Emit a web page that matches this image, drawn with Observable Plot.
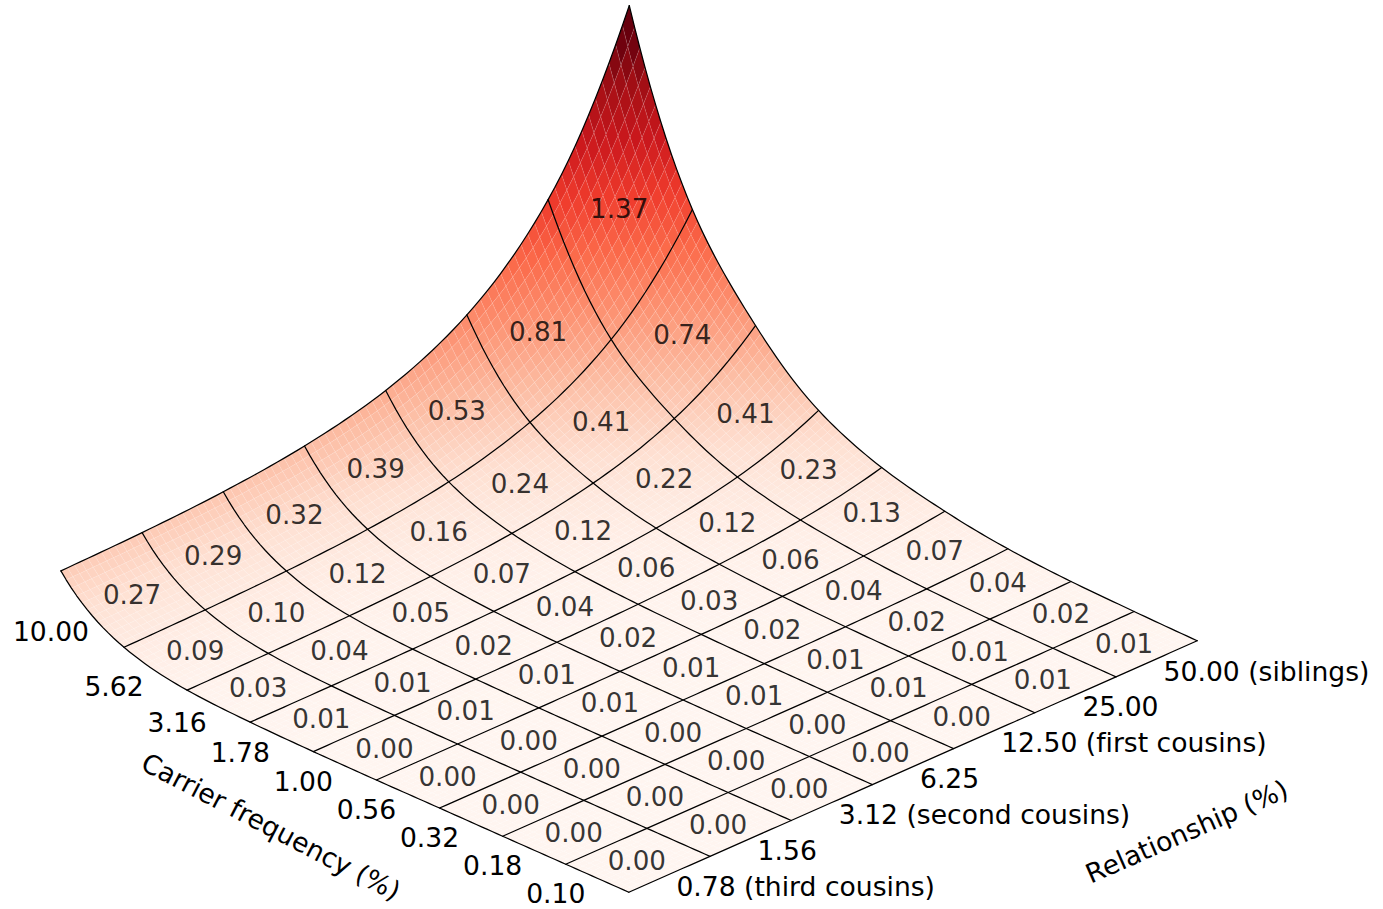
<!DOCTYPE html>
<html>
<head>
<meta charset="utf-8">
<style>
html,body{margin:0;padding:0;background:#fff;overflow:hidden}
svg{display:block}
text{font-variant-ligatures:none}
</style>
<script src="https://cdn.jsdelivr.net/npm/d3@7"></script>
<script src="https://cdn.jsdelivr.net/npm/@observablehq/plot@0.6"></script>
</head>
<body>
<script>
const carrierLabels = ["0.10","0.18","0.32","0.56","1.00","1.78","3.16","5.62","10.00"];
const relationshipLabels = ["0.78 (third cousins)","1.56","3.12 (second cousins)","6.25","12.50 (first cousins)","25.00","50.00 (siblings)"];
const heightLine0 = [0,0,0,0,.001,.001,.001,.003];
const heightLine1 = [0,0,0,.001,.001,.003,.005,.011];
const heightLine2 = [0,0,.001,.001,.003,.006,.012,.024];
const heightLine3 = [.001,.001,.002,.004,.007,.014,.027,.054];
const heightLine4 = [.001,.002,.004,.008,.015,.029,.058,.116];
const heightLine5 = [.004,.006,.009,.015,.029,.056,.110,.217];
const heightLine6 = [.013,.016,.022,.034,.059,.108,.207,.405];
const heightLine7 = [.039,.045,.056,.079,.125,.218,.403,.772];
const heightLine8 = [.135,.145,.164,.202,.277,.430,.733,1.340];
const heightLine9 = [.447,.463,.495,.559,.686,.942,1.454,2.475];
const heights = [heightLine0,heightLine1,heightLine2,heightLine3,heightLine4,heightLine5,heightLine6,heightLine7,heightLine8,heightLine9];
const cells010 = [0.00,0.00,0.00,0.00,0.00,0.01,0.01];
const cells018 = [0.00,0.00,0.00,0.00,0.01,0.01,0.02];
const cells032 = [0.00,0.00,0.00,0.01,0.01,0.02,0.04];
const cells056 = [0.00,0.00,0.01,0.01,0.02,0.04,0.07];
const cells100 = [0.00,0.01,0.01,0.02,0.03,0.06,0.13];
const cells178 = [0.01,0.01,0.02,0.04,0.06,0.12,0.23];
const cells316 = [0.03,0.04,0.05,0.07,0.12,0.22,0.41];
const cells562 = [0.09,0.10,0.12,0.16,0.24,0.41,0.74];
const cells1000 = [0.27,0.29,0.32,0.39,0.53,0.81,1.37];
const cellValues = [cells010,cells018,cells032,cells056,cells100,cells178,cells316,cells562,cells1000];
const redStops = ["#fff5f0","#fee0d2","#fcbba1","#fc9272","#fb6a4a","#ef3b2c","#cb181d","#a50f15","#67000d"];
const view = {x0:628.3, y0:891.7, xR:81.2, yR:-35.86, xC:-63.1, yC:-28, yZ:-155};
const px = (r,c) => view.x0 + view.xR*r + view.xC*c;
const py = (r,c,z) => view.y0 + view.yR*r + view.yC*c + view.yZ*z;
const eps = .002;
const logH = heights.map(row => row.map(v => Math.log(v+eps)));
const nC = logH.length, nR = logH[0].length;
function cr(p0,p1,p2,p3,t){
  return p1 + .5*t*(p2-p0 + t*(2*p0-5*p1+4*p2-p3 + t*(3*(p1-p2)+p3-p0)));
}
function sample(arr,u){
  const n = arr.length, i = Math.min(Math.floor(u),n-2), t = u-i;
  const a = i>0 ? arr[i-1] : 2*arr[0]-arr[1];
  const d = i<n-2 ? arr[i+2] : 2*arr[n-1]-arr[n-2];
  return cr(a,arr[i],arr[i+1],d,t);
}
function surf(r,c){
  const col = logH.map(row => sample(row,r));
  return Math.max(0, Math.exp(sample(col,c))-eps);
}
const sub = 12;
const grid = [];
for(let j=0;j<=(nC-1)*sub;j++){
  const row=[];
  for(let i=0;i<=(nR-1)*sub;i++) row.push(surf(i/sub,j/sub));
  grid.push(row);
}
const facets = [];
for(let j=0;j<(nC-1)*sub;j++){
  for(let i=0;i<(nR-1)*sub;i++){
    const id = j*10000+i;
    const corners = [[i,j],[i+1,j],[i+1,j+1],[i,j+1]];
    const zm = d3.mean(corners,([a,b])=>grid[b][a]);
    for(const [a,b] of corners){
      facets.push({id, z:zm, x:px(a/sub,b/sub), y:py(a/sub,b/sub,grid[b][a])});
    }
  }
}
const wires = [];
for(let i=0;i<nR;i++) for(let j=0;j<=(nC-1)*sub;j++)
  wires.push({id:"r"+i, x:px(i,j/sub), y:py(i,j/sub,grid[j][i*sub])});
for(let j=0;j<nC;j++) for(let i=0;i<=(nR-1)*sub;i++)
  wires.push({id:"c"+j, x:px(i/sub,j), y:py(i/sub,j,grid[j*sub][i])});
const cellRows = [];
cellValues.forEach((row,c)=>row.forEach((v,r)=>{
  cellRows.push({label:v.toFixed(2), x:px(r+.5,c+.5), y:py(r+.5,c+.5,v)});
}));
const carrierTicks = carrierLabels.map((label,c)=>({label, x:px(0,c+.5), y:py(0,c+.5,surf(0,c+.5))}));
const relationshipTicks = relationshipLabels.map((label,r)=>({label, x:px(r+.5,0), y:py(r+.5,0,0)}));
const axisTitles = [
  {label:"Carrier frequency (%)", x:px(-1.31,3.99), y:py(-1.31,3.99,0), rotate:27.5},
  {label:"Relationship (%)", x:px(4.28,-3.34), y:py(4.28,-3.34,0), rotate:-23.7}
];
const colorMax = 2.3;
const fontSize = 26.6;
const chart = Plot.plot({
  width:1383, height:909,
  marginTop:0, marginRight:0, marginBottom:0, marginLeft:0,
  style:{fontFamily:"DejaVu Sans", background:"#fff", color:"#000"},
  x:{domain:[0,1383], range:[0,1383], axis:null},
  y:{domain:[0,909], range:[0,909], axis:null},
  color:{type:"linear", domain:redStops.map((_,i)=>colorMax*i/(redStops.length-1)), range:redStops, interpolate:"rgb", clamp:true},
  marks:[
    Plot.line(facets,{x:"x",y:"y",z:"id",fill:"z",stroke:"#fff",strokeOpacity:.13,strokeWidth:.6,curve:"linear-closed"}),
    Plot.line(wires,{x:"x",y:"y",z:"id",stroke:"#000",strokeWidth:1.25,curve:"linear"}),
    Plot.text(cellRows,{x:"x",y:"y",text:"label",fontSize:26.2,fill:"#000",fillOpacity:.8,dx:-1,dy:1}),
    Plot.text(carrierTicks,{x:"x",y:"y",text:"label",fontSize,fill:"#000",dx:-41.5,dy:16.5}),
    Plot.text(relationshipTicks,{x:"x",y:"y",text:"label",fontSize,fill:"#000",textAnchor:"start",dx:7,dy:13}),
    Plot.text(axisTitles,{x:"x",y:"y",text:"label",rotate:"rotate",fontSize,fill:"#000"})
  ]
});
document.body.appendChild(chart);
</script>
</body>
</html>
